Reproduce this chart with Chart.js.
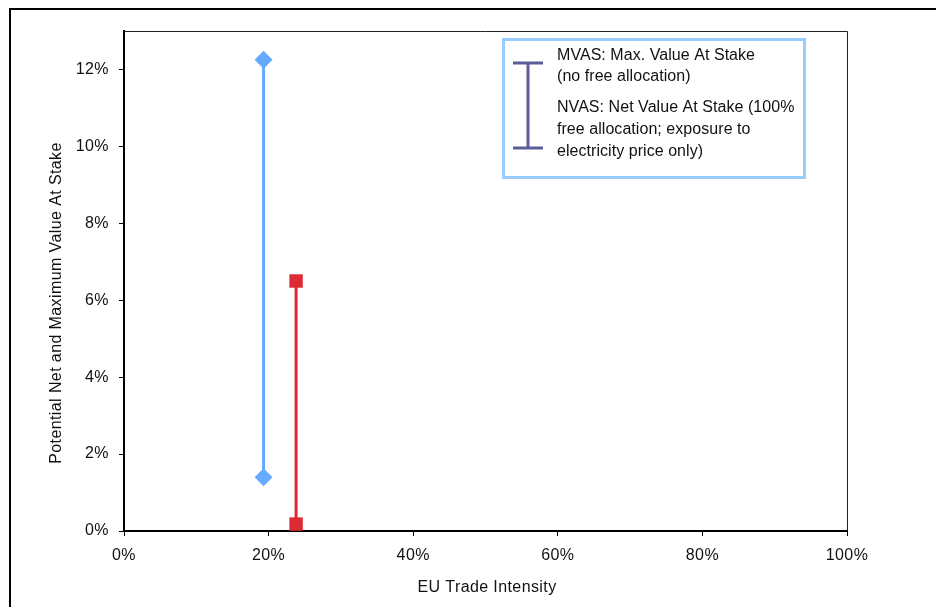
<!DOCTYPE html>
<html>
<head>
<meta charset="utf-8">
<script src="https://cdn.jsdelivr.net/npm/chart.js@4.4.1/dist/chart.umd.min.js"></script>
<style>
  html, body { margin: 0; padding: 0; background: #fff; }
  #wrap { width: 936px; height: 607px; position: relative; }
</style>
</head>
<body>
<div id="wrap"><canvas id="canvas1" width="936" height="607"></canvas></div>
<script>
// data
var tradeIntensity = [0.193, 0.238];
var mvas = [0.1225, 0.065];
var nvas = [0.014, 0.0018];
var seriesColors = ['#66aaff', '#dd2b33'];
var seriesMarkers = ['rectRot', 'rect'];
var xTicks = [0, 0.2, 0.4, 0.6, 0.8, 1.0];
var yTicks = [0, 0.02, 0.04, 0.06, 0.08, 0.10, 0.12];
var legendLines = [
    'MVAS: Max. Value At Stake',
    '(no free allocation)',
    'NVAS: Net Value At Stake (100%',
    'free allocation; exposure to',
    'electricity price only)'
];

var font = 'Liberation Sans, Arial, sans-serif';

function pct(v) {
    return Math.round(v * 100) + '%';
}

var datasets = [];
for (var i = 0; i < tradeIntensity.length; i++) {
    datasets.push({
        data: [{x: tradeIntensity[i], y: mvas[i]}, {x: tradeIntensity[i], y: nvas[i]}],
        showLine: true,
        borderColor: seriesColors[i],
        backgroundColor: seriesColors[i],
        borderWidth: 3,
        pointStyle: seriesMarkers[i],
        pointRadius: i === 0 ? 9 : 9.5,
        pointBorderWidth: 0
    });
}

// slightly wider letter spacing like the original rendering
var spacing = {
    id: 'spacing',
    beforeDraw: function (chart) {
        chart.ctx.letterSpacing = '0.4px';
    }
};

// frame, plot box, legend box and axis titles
var decor = {
    id: 'decor',
    afterDraw: function (chart) {
        var c = chart.ctx;
        var a = chart.chartArea;
        c.save();
        // outer frame
        c.strokeStyle = '#000';
        c.lineWidth = 2;
        c.beginPath();
        c.moveTo(10, 620);
        c.lineTo(10, 9);
        c.lineTo(940, 9);
        c.stroke();
        // top and right of plot box
        c.strokeStyle = '#222';
        c.lineWidth = 1;
        c.beginPath();
        c.moveTo(a.left, a.top + 0.5);
        c.lineTo(a.right + 0.5, a.top + 0.5);
        c.lineTo(a.right + 0.5, a.bottom);
        c.stroke();
        // legend box
        c.strokeStyle = '#99ccff';
        c.lineWidth = 3;
        c.strokeRect(503.5, 39.5, 301, 138);
        // I-beam symbol
        c.strokeStyle = '#5c5c99';
        c.lineWidth = 3;
        c.beginPath();
        c.moveTo(513, 63); c.lineTo(543, 63);
        c.moveTo(528, 63); c.lineTo(528, 148);
        c.moveTo(513, 148); c.lineTo(543, 148);
        c.stroke();
        // legend text
        c.fillStyle = '#111';
        c.font = '16px ' + font;
        c.letterSpacing = '0.05px';
        c.textBaseline = 'middle';
        c.textAlign = 'left';
        var ys = [56, 77, 108, 130, 152];
        for (var k = 0; k < legendLines.length; k++) {
            c.fillText(legendLines[k], 557, ys[k]);
        }
        // axis titles
        c.letterSpacing = '0.4px';
        c.textAlign = 'center';
        c.fillText('EU Trade Intensity', 487, 588);
        c.translate(57, 303);
        c.rotate(-Math.PI / 2);
        c.fillText('Potential Net and Maximum Value At Stake', 0, 0);
        c.restore();
    }
};

var ctx1 = document.getElementById('canvas1').getContext('2d');
var chart1 = new Chart(ctx1, {
    type: 'scatter',
    data: {datasets: datasets},
    options: {
        responsive: false,
        animation: false,
        layout: {padding: {left: 0, top: 31, right: 89, bottom: 0}},
        plugins: {legend: {display: false}, tooltip: {enabled: false}},
        scales: {
            x: {
                type: 'linear',
                min: 0,
                max: 1,
                afterFit: function (s) { s.height = 76; },
                afterBuildTicks: function (s) { s.ticks = xTicks.map(function (v) { return {value: v}; }); },
                grid: {drawOnChartArea: false, drawTicks: true, tickLength: 5, color: '#000'},
                border: {color: '#000', width: 2},
                ticks: {
                    callback: function (v) { return pct(v); },
                    color: '#111',
                    font: {family: font, size: 16},
                    padding: 10,
                    maxRotation: 0
                }
            },
            y: {
                type: 'linear',
                min: 0,
                max: 0.13,
                afterFit: function (s) { s.width = 124; },
                afterBuildTicks: function (s) { s.ticks = yTicks.map(function (v) { return {value: v}; }); },
                grid: {drawOnChartArea: false, drawTicks: true, tickLength: 5, color: '#000'},
                border: {color: '#000', width: 2},
                ticks: {
                    callback: function (v) { return pct(v); },
                    color: '#111',
                    font: {family: font, size: 16},
                    padding: 10
                }
            }
        }
    },
    plugins: [spacing, decor]
});
</script>
</body>
</html>
